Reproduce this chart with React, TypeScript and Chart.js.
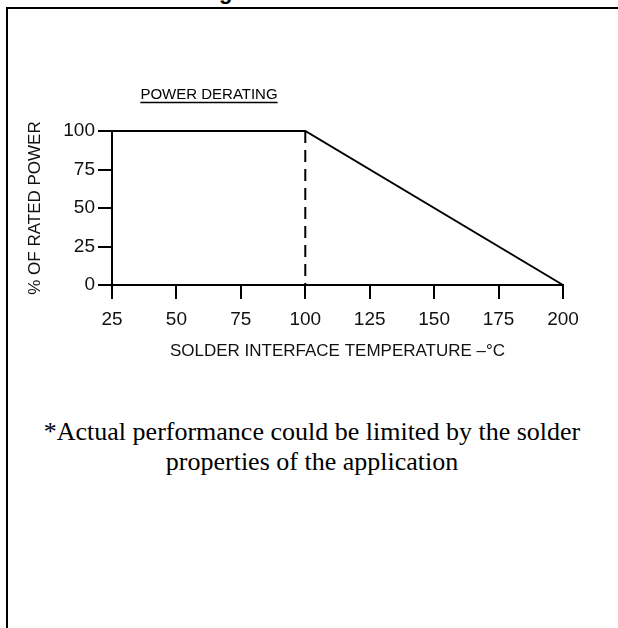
import React, { useEffect, useRef } from "react";
import { Chart, registerables } from "chart.js";

Chart.register(...registerables);

// ---- data ----
const curveTemps = [25, 100, 200];
const curvePower = [100, 100, 0];
const dashTemps = [100, 100];
const dashPower = [100, 0];
const xTickMin = 25;
const xTickMax = 200;
const xTickStep = 25;
const yTickMin = 0;
const yTickMax = 100;
const yTickStep = 25;
const chartTitle = "POWER DERATING";
const xAxisTitle = "SOLDER INTERFACE TEMPERATURE \u2013\u00B0C";
const yAxisTitle = "% OF RATED POWER";
const footnoteLines = [
  "*Actual performance could be limited by the solder",
  "properties of the application",
];
const headingText = "Power Derating";

const SANS = '"Liberation Sans", Arial, sans-serif';

const underlinedTitle = {
  id: "underlinedTitle",
  afterDraw(chart: any) {
    const ctx = chart.ctx;
    const area = chart.chartArea;
    ctx.save();
    ctx.font = `15px ${SANS}`;
    ctx.fillStyle = "#000";
    ctx.textAlign = "center";
    ctx.textBaseline = "alphabetic";
    const cx = area.left + 97;
    const by = area.top - 32;
    ctx.fillText(chartTitle, cx, by);
    const w = ctx.measureText(chartTitle).width;
    ctx.strokeStyle = "#000";
    ctx.lineWidth = 1.5;
    ctx.beginPath();
    ctx.moveTo(cx - w / 2, by + 3.5);
    ctx.lineTo(cx + w / 2, by + 3.5);
    ctx.stroke();
    ctx.restore();
  },
};

function DeratingChart() {
  const ref = useRef<HTMLCanvasElement | null>(null);
  useEffect(() => {
    if (!ref.current) return;
    const chart = new Chart(ref.current, {
      type: "line",
      data: {
        datasets: [
          {
            data: curveTemps.map((t, i) => ({ x: t, y: curvePower[i] })),
            borderColor: "#000",
            borderWidth: 2,
            pointRadius: 0,
            tension: 0,
            fill: false,
            clip: false as any,
          },
          {
            data: dashTemps.map((t, i) => ({ x: t, y: dashPower[i] })),
            borderColor: "#000",
            borderWidth: 2,
            borderDash: [12, 7],
            pointRadius: 0,
            tension: 0,
            fill: false,
            clip: false as any,
          },
        ],
      },
      options: {
        responsive: false,
        animation: false,
        devicePixelRatio: 1,
        layout: { padding: { left: 0, right: 55, top: 131, bottom: 0 } },
        plugins: {
          legend: { display: false },
          tooltip: { enabled: false },
          title: { display: false },
        },
        scales: {
          x: {
            type: "linear",
            min: xTickMin,
            max: xTickMax,
            afterFit(scale: any) {
              scale.height = 80;
            },
            ticks: {
              stepSize: xTickStep,
              color: "#111",
              font: { family: SANS, size: 19 },
              padding: 9,
              maxRotation: 0,
            },
            grid: {
              drawOnChartArea: false,
              drawTicks: true,
              tickLength: 14,
              color: "#000",
              lineWidth: 2,
            },
            border: { display: true, color: "#000", width: 2 },
            title: {
              display: true,
              text: xAxisTitle,
              color: "#111",
              font: { family: SANS, size: 17 },
              padding: { top: 0, bottom: 3 },
            },
          },
          y: {
            type: "linear",
            min: yTickMin,
            max: yTickMax,
            afterFit(scale: any) {
              scale.width = 112;
            },
            ticks: {
              stepSize: yTickStep,
              color: "#111",
              font: { family: SANS, size: 19 },
              padding: 3,
            },
            grid: {
              drawOnChartArea: false,
              drawTicks: true,
              tickLength: 14,
              color: "#000",
              lineWidth: 2,
            },
            border: { display: true, color: "#000", width: 2 },
            title: {
              display: true,
              text: yAxisTitle,
              color: "#111",
              font: { family: SANS, size: 17 },
              padding: { top: 25, bottom: 0 },
            },
          },
        },
      },
      plugins: [underlinedTitle],
    });
    return () => chart.destroy();
  }, []);
  return (
    <canvas
      ref={ref}
      width={618}
      height={365}
      style={{ position: "absolute", left: 0, top: 0, width: 618, height: 365 }}
    />
  );
}

export default function App() {
  return (
    <div
      style={{
        position: "fixed",
        left: 0,
        top: 0,
        width: 618,
        height: 628,
        background: "#fff",
        overflow: "hidden",
      }}
    >
      <div
        style={{
          position: "absolute",
          left: 6,
          top: 7,
          width: 612,
          height: 630,
          borderTop: "2px solid #000",
          borderLeft: "2px solid #000",
        }}
      />
      <div
        style={{
          position: "absolute",
          left: 71,
          top: -19,
          font: `bold 22px ${SANS}`,
          lineHeight: "22px",
          whiteSpace: "nowrap",
          color: "#000",
        }}
      >
        {headingText}
      </div>
      <DeratingChart />
      <div
        style={{
          position: "absolute",
          left: 6,
          top: 417,
          width: 612,
          textAlign: "center",
          font: '26px "Liberation Serif", "Times New Roman", serif',
          lineHeight: "30px",
          color: "#000",
        }}
      >
        {footnoteLines.map((l, i) => (
          <div key={i}>{l}</div>
        ))}
      </div>
    </div>
  );
}
